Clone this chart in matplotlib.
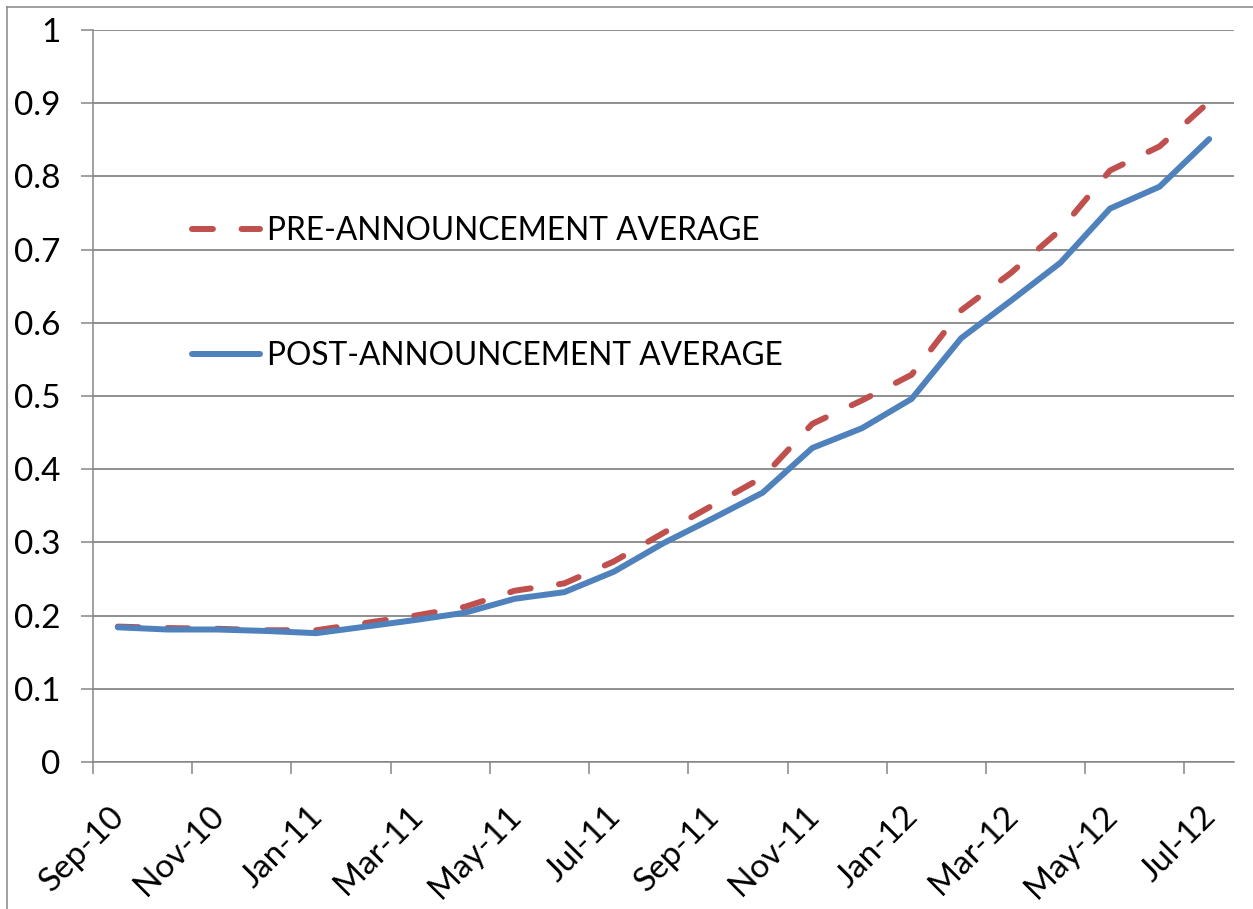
import numpy as np
import pandas as pd
import matplotlib
matplotlib.use("Agg")
import matplotlib.pyplot as plt
from matplotlib.lines import Line2D
from matplotlib.transforms import ScaledTranslation

# monthly averages, Sep-10 .. Jul-12
months = pd.date_range("2010-09-01", periods=23, freq="MS")
pre_avg = [0.185, 0.183, 0.182, 0.180, 0.180, 0.190, 0.200, 0.212, 0.234, 0.244,
           0.274, 0.313, 0.351, 0.389, 0.462, 0.494, 0.529, 0.617, 0.668, 0.727,
           0.808, 0.841, 0.902]
post_avg = [0.184, 0.181, 0.181, 0.179, 0.176, 0.185, 0.194, 0.204, 0.223, 0.232,
            0.260, 0.299, 0.333, 0.368, 0.429, 0.456, 0.496, 0.579, 0.630, 0.682,
            0.756, 0.786, 0.851]
series_labels = ["PRE-ANNOUNCEMENT AVERAGE", "POST-ANNOUNCEMENT AVERAGE"]
y_ticks = [0, 0.1, 0.2, 0.3, 0.4, 0.5, 0.6, 0.7, 0.8, 0.9, 1]

plt.rcParams['font.family'] = ['Lato', 'DejaVu Sans']
grey = '#868686'

fig = plt.figure(figsize=(12.53, 9.09), dpi=100)
ax = fig.add_axes([93 / 1253, (909 - 762) / 909, (1234 - 93) / 1253, 732 / 909])

# points sit in the middle of each month
x = np.arange(len(months)) + 0.5
ax.plot(x, pre_avg, color='#C0504D', lw=4.3, dashes=(3.5, 4.8),
        dash_capstyle='round', solid_capstyle='round', label=series_labels[0])
ax.plot(x, post_avg, color='#4F81BD', lw=4.3, solid_capstyle='round',
        label=series_labels[1])

ax.set_xlim(0, len(months))
ax.set_ylim(0, 1)

tick_idx = np.arange(0, len(months), 2)
ax.set_xticks(tick_idx)
ax.set_xticklabels([months[i].strftime('%b-%y') for i in tick_idx],
                   rotation=45, ha='right', va='center', rotation_mode='anchor')
ax.set_yticks(y_ticks)
ax.set_yticklabels(['%g' % v for v in y_ticks])

ax.tick_params(axis='both', colors=grey, labelcolor='black', labelsize=24,
               length=8.5, width=1.1, direction='out')
ax.tick_params(axis='y', pad=15)
ax.tick_params(axis='x', pad=27)
for lab in ax.get_xticklabels():
    lab.set_transform(lab.get_transform() + ScaledTranslation(0.27, 0, fig.dpi_scale_trans))

ax.grid(axis='y', color=grey, lw=1.3)
ax.set_axisbelow(True)
for side in ['top', 'right']:
    ax.spines[side].set_visible(False)
for side in ['left', 'bottom']:
    ax.spines[side].set_color(grey)
    ax.spines[side].set_linewidth(1.1)

ax.legend(loc='upper left', bbox_to_anchor=((192 - 93) / 1141, (762 - 216) / 732),
          frameon=False, fontsize=22.8, handlelength=2.15, handletextpad=0.22,
          labelspacing=3.0, borderpad=0, borderaxespad=0)

# chart area border (left and top only visible)
fig.add_artist(Line2D([7 / 1253, 7 / 1253], [0, 1 - 7 / 909], color=grey, lw=1.1))
fig.add_artist(Line2D([7 / 1253, 1], [1 - 7 / 909, 1 - 7 / 909], color=grey, lw=1.1))

fig.savefig('out.png', dpi=100)
